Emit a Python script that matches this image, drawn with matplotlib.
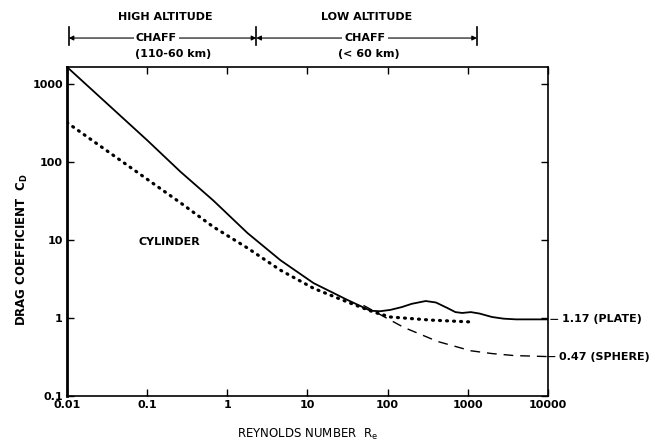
import matplotlib
matplotlib.use("Agg")
import matplotlib.pyplot as plt
import numpy as np

plt.rcParams["font.family"] = ["Liberation Sans Narrow", "DejaVu Sans"]
plt.rcParams["font.weight"] = "bold"

# curve data (Reynolds number, drag coefficient)
plate_re = [0.01, 0.1, 0.26, 0.67, 1.78, 4.6, 11.9, 31.6, 61, 80, 108, 150, 200,
            298, 400, 550, 700, 850, 1090, 1400, 2000, 2800, 4000, 10000]
plate_cd = [1650, 190, 75, 32, 12.3, 5.5, 2.8, 1.70, 1.24, 1.22, 1.27, 1.38, 1.52,
            1.65, 1.58, 1.35, 1.19, 1.16, 1.19, 1.14, 1.03, 0.98, 0.96, 0.96]

cyl_re = [0.01, 0.26, 0.67, 1.78, 4.6, 11.9, 31.6, 67, 108, 345, 1090]
cyl_cd = [320, 30, 14.7, 7.9, 4.1, 2.4, 1.6, 1.19, 1.03, 0.94, 0.89]

sph_re = [50, 100, 158, 420, 1090, 2000, 3760, 10000]
sph_cd = [1.45, 0.98, 0.76, 0.50, 0.38, 0.35, 0.33, 0.32]

x_ticks = [0.01, 0.1, 1, 10, 100, 1000, 10000]
x_labels = ["0.01", "0.1", "1", "10", "100", "1000", "10000"]
y_ticks = [0.1, 1, 10, 100, 1000]
y_labels = ["0.1", "1", "10", "100", "1000"]

# altitude bands drawn above the plot
band_edges = [0.0105, 2.3, 1300]
band_titles = ["HIGH ALTITUDE", "LOW ALTITUDE"]
band_ranges = ["(110-60 km)", "(< 60 km)"]
band_title_x = [0.17, 54]
band_chaff_x = [0.13, 52]
band_range_x = [0.21, 58]

fig = plt.figure(figsize=(6.53, 4.46), dpi=100)
ax = fig.add_axes([0.1026, 0.1121, 0.7366, 0.7377])

ax.plot(plate_re, plate_cd, color="black", lw=1.3, solid_capstyle="round")
ax.plot(cyl_re, cyl_cd, color="black", lw=2.3, linestyle=(0, (0.3, 1.9)),
        dash_capstyle="round")
ax.plot(sph_re, sph_cd, color="black", lw=1.0, linestyle=(0, (7, 5)))

ax.set_xscale("log")
ax.set_yscale("log")
ax.set_xlim(0.01, 10000)
ax.set_ylim(0.1, 1650)
ax.set_xticks(x_ticks)
ax.set_xticklabels(x_labels)
ax.set_yticks(y_ticks)
ax.set_yticklabels(y_labels)
ax.minorticks_off()
ax.tick_params(direction="in", length=5, width=1.0, labelsize=8,
               top=True, right=True, pad=3)
for side in ax.spines.values():
    side.set_linewidth(1.2)
ax.spines["left"].set_linewidth(2.0)

ax.set_xlabel(r"REYNOLDS NUMBER  R$_\mathregular{e}$", fontsize=8.5, labelpad=12)
fig.text(0.034, 0.44, r"DRAG COEFFICIENT  C$_\mathregular{D}$", rotation=90,
         fontsize=8.5, ha="center", va="center")

ax.text(0.19, 9.4, "CYLINDER", fontsize=8, ha="center", va="center")

ax.annotate("1.17 (PLATE)", xy=(1.0, plate_cd[-1]), xycoords=("axes fraction", "data"),
            xytext=(10, 0), textcoords="offset points", va="center", fontsize=8,
            arrowprops=dict(arrowstyle="-", lw=0.8, shrinkA=1, shrinkB=2),
            annotation_clip=False)
ax.annotate("0.47 (SPHERE)", xy=(1.0, sph_cd[-1]), xycoords=("axes fraction", "data"),
            xytext=(8, 0), textcoords="offset points", va="center", fontsize=8,
            arrowprops=dict(arrowstyle="-", lw=0.8, shrinkA=1, shrinkB=0),
            annotation_clip=False)

xtr = ax.get_xaxis_transform()
for edge in band_edges:
    ax.plot([edge, edge], [1.067, 1.122], transform=xtr, color="black",
            lw=1.2, clip_on=False)
for i in range(2):
    ax.annotate("", xy=(band_edges[i], 1.088), xytext=(band_edges[i + 1], 1.088),
                xycoords=xtr, textcoords=xtr,
                arrowprops=dict(arrowstyle="<|-|>", lw=0.8, color="black",
                                mutation_scale=7, shrinkA=0, shrinkB=0))
    ax.text(band_title_x[i], 1.152, band_titles[i], transform=xtr, fontsize=8,
            ha="center", va="center")
    ax.text(band_chaff_x[i], 1.088, "CHAFF", transform=xtr, fontsize=8,
            ha="center", va="center",
            bbox=dict(facecolor="white", edgecolor="none", pad=1.5))
    ax.text(band_range_x[i], 1.040, band_ranges[i], transform=xtr, fontsize=8,
            ha="center", va="center")

fig.savefig("out.png", dpi=100, facecolor="white")
